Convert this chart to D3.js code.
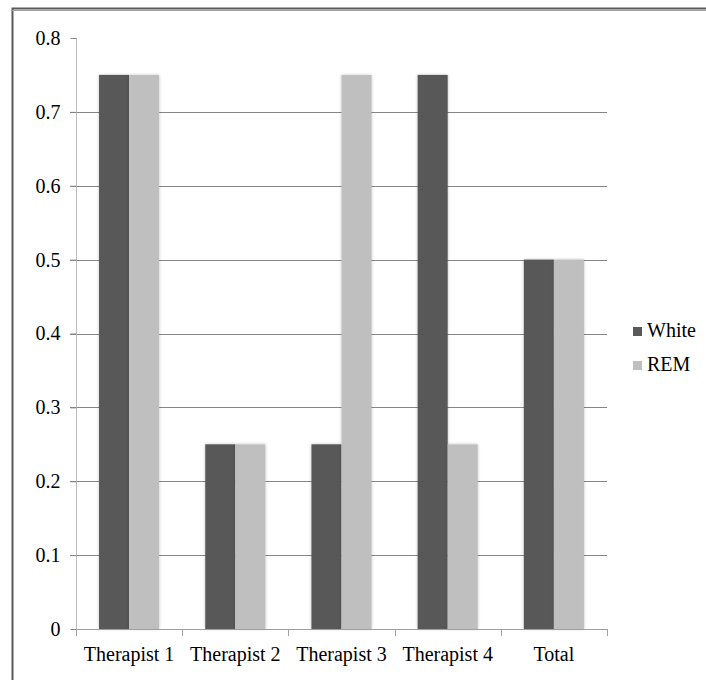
<!DOCTYPE html>
<html><head><meta charset="utf-8">
<script src="https://cdn.jsdelivr.net/npm/d3@7"></script>
<style>html,body{margin:0;padding:0;background:#fff;}svg{display:block;}</style>
</head><body>
<svg id="c" width="706" height="680"></svg>
<script>
const categories = ["Therapist 1","Therapist 2","Therapist 3","Therapist 4","Total"];
const seriesNames = ["White","REM"];
const whiteValues = [0.75,0.25,0.25,0.75,0.5];
const remValues = [0.75,0.25,0.75,0.25,0.5];
const yTicks = [0,0.1,0.2,0.3,0.4,0.5,0.6,0.7,0.8];
const colors = ["#595959","#bfbfbf"];

(function(){
const svg = d3.select("#c");
const font = '"Liberation Serif", Tinos, "Times New Roman", Times, "DejaVu Serif", "Noto Serif", serif';

// frame
svg.append("rect").attr("x",12.5).attr("y",8.5).attr("width",720).attr("height",700)
  .attr("fill","none").attr("stroke","#5a5a5a").attr("stroke-width",2);
svg.append("line").attr("x1",12).attr("x2",706).attr("y1",10.5).attr("y2",10.5).attr("stroke","#a0a0a0").attr("stroke-width",1);

const pl=76, pr=607, pt=38, pb=629;
const x = d3.scaleBand().domain(categories).range([pl,pr]).paddingInner(0.434).paddingOuter(0.217);
const xs = d3.scaleBand().domain(seriesNames).range([0,x.bandwidth()]);
const y = d3.scaleLinear().domain([0,0.8]).range([pb,pt]);

svg.append("g").selectAll("line").data(yTicks.filter(d=>d>0 && d<0.8)).join("line")
  .attr("x1",70).attr("x2",pr).attr("y1",d=>Math.round(y(d))+0.5).attr("y2",d=>Math.round(y(d))+0.5)
  .attr("stroke","#868686").attr("stroke-width",1);

const data = categories.map((c,i)=>({c, vals:[whiteValues[i],remValues[i]]}));
const g = svg.append("g");
const defs = svg.append("defs");
const f = defs.append("filter").attr("id","sh").attr("x","-20%").attr("y","-5%").attr("width","140%").attr("height","110%");
f.append("feGaussianBlur").attr("in","SourceAlpha").attr("stdDeviation",1.5).attr("result","b");
f.append("feFlood").attr("flood-color","#000").attr("flood-opacity",0.25);
f.append("feComposite").attr("in2","b").attr("operator","in").attr("result","s");
const fm = f.append("feMerge"); fm.append("feMergeNode").attr("in","s"); fm.append("feMergeNode").attr("in","SourceGraphic");

data.forEach(d=>{
  seriesNames.forEach((s,j)=>{
    g.append("rect").attr("x",x(d.c)+xs(s)).attr("width",xs.bandwidth())
      .attr("y",y(d.vals[j])).attr("height",pb-y(d.vals[j]))
      .attr("fill",colors[j]).attr("filter","url(#sh)");
  });
});

const yAxis = d3.axisLeft(y).tickValues(yTicks).tickFormat(d=>d===0?"0":d3.format(".1f")(d)).tickSize(6).tickPadding(10);
const ya = svg.append("g").attr("transform",`translate(${pl+0.5},0)`).call(yAxis);
ya.attr("font-family",font).attr("font-size",20);
ya.select(".domain").attr("stroke","#bebebe").attr("d",`M-6,${pb+0.5}H0V${pt}`);
ya.selectAll(".tick line").attr("stroke","#868686");
ya.selectAll("text").attr("fill","#000");

const xAxis = d3.axisBottom(x).tickSize(0).tickPadding(17);
const xa = svg.append("g").attr("transform",`translate(0,${pb+0.5})`).call(xAxis);
xa.attr("font-family",font).attr("font-size",20);
xa.select(".domain").attr("stroke","#a0a0a0").attr("d",`M${pl},0H${pr}`);
xa.selectAll("text").attr("fill","#000");
const bounds = d3.range(categories.length+1).map(i=>pl+(pr-pl)*i/categories.length);
svg.append("g").selectAll("line").data(bounds).join("line")
  .attr("x1",d=>Math.round(d)+0.5).attr("x2",d=>Math.round(d)+0.5).attr("y1",pb).attr("y2",pb+7)
  .attr("stroke","#a0a0a0");

const lg = svg.append("g").attr("transform","translate(633,0)").attr("font-family",font).attr("font-size",20);
seriesNames.forEach((s,i)=>{
  const ty = 337 + i*34;
  lg.append("rect").attr("x",0).attr("y",ty-10).attr("width",9).attr("height",9).attr("fill",colors[i]);
  lg.append("text").attr("x",14).attr("y",ty).text(s).attr("fill","#000");
});
})();
</script>
</body></html>
